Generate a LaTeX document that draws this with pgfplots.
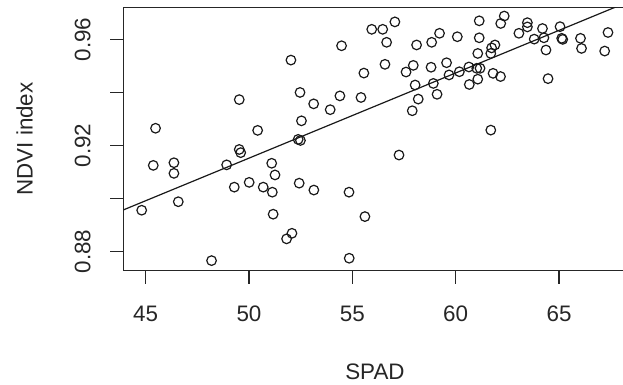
\documentclass[border=0pt]{standalone}
\usepackage{fontspec}
\setmainfont{Liberation Sans}
\usepackage{pgfplots}
\pgfplotsset{compat=1.18}
\pgfplotstableread{
x y
44.81 0.8956
45.37 0.9125
45.48 0.9265
46.37 0.9135
46.37 0.9095
46.58 0.8988
48.19 0.8766
48.92 0.9127
49.29 0.9043
49.53 0.9373
49.53 0.9185
49.60 0.9173
50.01 0.9061
50.42 0.9257
50.69 0.9043
51.10 0.9133
51.26 0.9089
51.13 0.9024
51.17 0.8941
51.82 0.8848
52.08 0.8869
52.03 0.9522
52.38 0.9223
52.49 0.9219
52.43 0.9058
52.47 0.9400
52.54 0.9293
53.13 0.9357
53.14 0.9032
53.93 0.9335
54.40 0.9387
54.48 0.9576
54.84 0.9024
54.85 0.8775
55.42 0.9381
55.56 0.9473
55.61 0.8932
55.94 0.9638
56.47 0.9638
57.06 0.9666
56.58 0.9506
56.66 0.9589
57.26 0.9164
57.60 0.9477
57.90 0.9331
57.95 0.9502
58.04 0.9428
58.11 0.9579
58.19 0.9375
58.81 0.9495
58.84 0.9589
58.92 0.9434
59.10 0.9393
59.22 0.9623
59.56 0.9512
59.68 0.9466
60.08 0.9610
60.18 0.9478
60.64 0.9496
60.66 0.9430
61.02 0.9491
61.18 0.9491
61.07 0.9450
61.07 0.9547
61.14 0.9670
61.14 0.9606
61.70 0.9547
61.74 0.9568
61.90 0.9579
61.70 0.9258
61.81 0.9472
62.17 0.9460
62.18 0.9660
62.35 0.9688
63.06 0.9623
63.47 0.9663
63.47 0.9647
63.80 0.9601
64.20 0.9641
64.27 0.9606
64.37 0.9560
64.47 0.9452
65.05 0.9648
65.13 0.9604
65.18 0.9600
66.04 0.9604
66.09 0.9566
67.21 0.9556
67.37 0.9626
}\spaddata
\begin{document}
\begin{tikzpicture}
\begin{axis}[
  at={(0,0)}, anchor=south west,
  scale only axis, width=251.65pt, height=131.7pt,
  xmin=43.92, xmax=68.27, ymin=0.8728, ymax=0.9721,
  xtick={45,50,55,60,65}, xticklabels={45,50,55,60,65},
  ytick={0.88,0.90,0.92,0.94,0.96}, yticklabels={0.88,{},0.92,{},0.96},
  scaled ticks=false,
  tick align=outside, major tick length=6.5pt,
  xtick pos=left, ytick pos=left,
  tick style={black!85, line width=0.6pt},
  axis line style={black!85, line width=0.6pt},
  tick label style={font=\fontsize{11.2}{13}\selectfont, text=black!85},
  xticklabel shift=7.5pt,
  yticklabel shift=6.3pt,
  yticklabel style={rotate=90, anchor=south},
  xlabel={SPAD}, ylabel={NDVI index},
  every axis x label/.style={at={([yshift=-54.3pt]axis description cs:0.5,0)}, anchor=base, inner sep=0pt, font=\fontsize{11.2}{13}\selectfont, text=black!85},
  every axis y label/.style={at={([xshift=-45pt]axis description cs:0,0.5)}, rotate=90, anchor=south, inner sep=0pt, font=\fontsize{11.2}{13}\selectfont, text=black!85},
]
\addplot[only marks, mark=o, mark size=2.4pt, mark options={line width=0.6pt, black!90}] table[x=x,y=y] {\spaddata};
\addplot[black!90, line width=0.6pt] coordinates {(43.92,0.8957) (68.27,0.9739)};
\end{axis}
\pgfresetboundingbox
\useasboundingbox (-61.65pt,-57.15pt) rectangle (249.85pt,135.35pt);
\end{tikzpicture}
\end{document}
